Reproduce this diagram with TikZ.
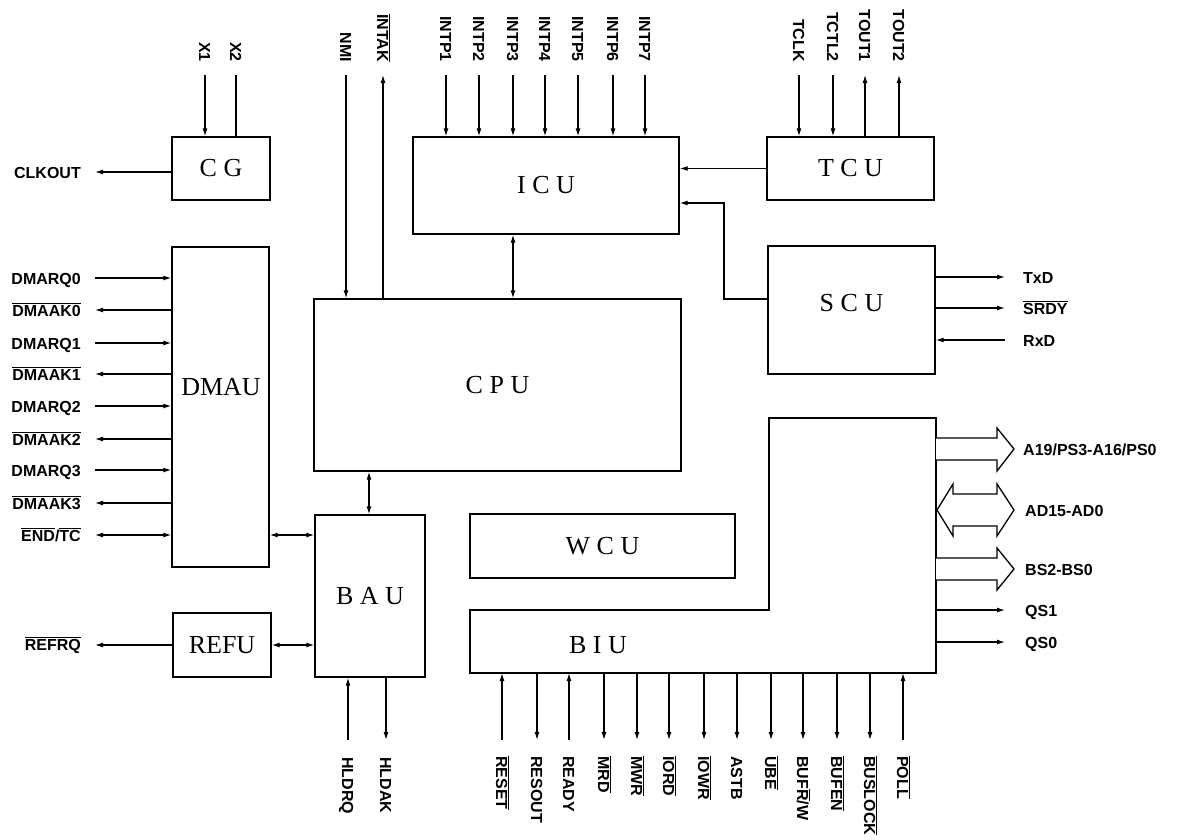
\documentclass[tikz,border=0pt]{standalone}
\usepackage{fontspec}
\newfontfamily\pinfont{Liberation Sans}
\newfontfamily\blkfont{Liberation Serif}
\usetikzlibrary{arrows.meta,calc}
\newcommand{\ovl}[1]{$\overline{\mbox{#1}}$}
\begin{document}
\begin{tikzpicture}[x=1pt,y=-1pt,
  bfont/.style={font=\blkfont\fontsize{26}{30}\selectfont},
  blk/.style={draw,line width=1.4pt,inner sep=0pt,bfont},
  wire/.style={line width=1.2pt},
  outp/.style={wire,-{Latex[length=8pt,width=5pt]}},
  inp/.style={wire,{Latex[length=8pt,width=5pt]}-},
  bidir/.style={wire,{Latex[length=8pt,width=5pt]}-{Latex[length=8pt,width=5pt]}},
  plain/.style={wire},
  pl/.style={font=\pinfont\bfseries\fontsize{16}{18}\selectfont,inner sep=0pt},
  tl/.style={pl,rotate=-90,anchor=base east},
  bl/.style={pl,rotate=-90,anchor=base west},
  ll/.style={pl,anchor=base east},
  rl/.style={pl,anchor=base west},
  bus/.style={line width=1.3pt,fill=white,line join=miter}
]
\useasboundingbox (0,0) rectangle (1186,839);
\fill[white] (0,0) rectangle (1186,839);

% blocks
\node[blk,minimum width=98pt,minimum height=63pt] (cg) at (221,168.5) {C G};
\node[blk,minimum width=266pt,minimum height=97pt] (icu) at (546,185.5) {I C U};
\node[blk,minimum width=167pt,minimum height=63pt] (tcu) at (850.5,168.5) {T C U};
\node[blk,minimum width=167pt,minimum height=128pt] (scu) at (851.5,310) {};
\node[bfont] (scul) at (851.5,303) {S C U};
\node[blk,minimum width=97pt,minimum height=320pt] (dmau) at (220.5,407) {};
\node[bfont] (dmaul) at (221,387) {DMAU};
\node[blk,minimum width=367pt,minimum height=172pt] (cpu) at (497.5,385) {C P U};
\node[blk,minimum width=110pt,minimum height=162pt] (bau) at (370,596) {B A U};
\node[blk,minimum width=98pt,minimum height=64pt] (refu) at (222,645) {REFU};
\node[blk,minimum width=265pt,minimum height=64pt] (wcu) at (602.5,546) {W C U};
\draw[line width=1.4pt] (470,610) -- (769,610) -- (769,418) -- (936,418) -- (936,673) -- (470,673) -- cycle;
\node[bfont] (biu) at (598,645) {B I U};
\coordinate (biubot) at (470,673);
\coordinate (biuright) at (936,418);

% CG pins
\coordinate (px1) at (205,75);
\coordinate (px2) at (236,75);
\draw[inp] (cg.north -| px1) -- (px1);
\draw[plain] (cg.north -| px2) -- (px2);
\node[tl] (lx1) at (199,62) {X1};
\node[tl] (lx2) at (230,62) {X2};
\coordinate (pclk) at (95,172);
\draw[outp] (cg.west |- pclk) -- (pclk);
\node[ll] (lclk) at (81,178) {CLKOUT};

% NMI / INTAK
\coordinate (pnmi) at (346,75);
\coordinate (pintak) at (383,75);
\draw[inp] (cpu.north -| pnmi) -- (pnmi);
\draw[outp] (cpu.north -| pintak) -- (pintak);
\node[tl] (lnmi) at (340,62) {NMI};
\node[tl] (lintak) at (377,62) {\ovl{INTAK}};

% INTP pins
\foreach \x/\t in {446/INTP1,479/INTP2,513/INTP3,545/INTP4,578/INTP5,613/INTP6,645/INTP7}{
  \coordinate (pi\x) at (\x,75);
  \draw[inp] (icu.north -| pi\x) -- (pi\x);
  \node[tl] (li\x) at (\x-6,62) {\t};
}

% TCU pins
\foreach \x/\t/\s in {799/TCLK/inp,833/TCTL2/inp,865/TOUT1/outp,899/TOUT2/outp}{
  \coordinate (pt\x) at (\x,75);
  \draw[\s] (tcu.north -| pt\x) -- (pt\x);
  \node[tl] (lt\x) at (\x-6,62) {\t};
}

% TCU -> ICU
\draw[outp] (tcu.west) -- (tcu.west -| icu.east);
% SCU -> ICU
\coordinate (scuj) at (768,299);
\coordinate (scuk) at (724,299);
\coordinate (scum) at (724,203);
\draw[wire,-{Latex[length=8pt,width=5pt]}] (scuj) -- (scuk) -- (scum) -- (icu.east |- scum);
% ICU <-> CPU
\coordinate (ic) at (513,0);
\draw[bidir] (icu.south -| ic) -- (cpu.north -| ic);
% CPU <-> BAU
\coordinate (cb) at (369,0);
\draw[bidir] (cpu.south -| cb) -- (bau.north -| cb);

% SCU pins
\foreach \y/\t/\s in {277/TxD/outp,308/\ovl{SRDY}/outp,340/RxD/inp}{
  \coordinate (ps\y) at (1005,\y);
  \draw[\s] (scu.east |- ps\y) -- (ps\y);
  \node[rl] (ls\y) at (1023,\y+6) {\t};
}

% DMAU pins
\foreach \y/\t/\s in {278/DMARQ0/inp,310/\ovl{DMAAK0}/outp,343/DMARQ1/inp,374/\ovl{DMAAK1}/outp,406/DMARQ2/inp,439/\ovl{DMAAK2}/outp,470/DMARQ3/inp,503/\ovl{DMAAK3}/outp}{
  \coordinate (pd\y) at (95,\y);
  \draw[\s] (dmau.west |- pd\y) -- (pd\y);
  \node[ll] (ld\y) at (81,\y+6) {\t};
}
\coordinate (pend) at (95,535);
\draw[bidir] (dmau.west |- pend) -- (pend);
\node[ll] (lend) at (81,541) {\ovl{END}/\ovl{TC}};
\coordinate (db) at (0,535);
\draw[bidir] (dmau.east |- db) -- (bau.west |- db);

% REFU
\coordinate (pref) at (95,645);
\draw[outp] (refu.west) -- (pref);
\node[ll] (lref) at (81,650) {\ovl{REFRQ}};
\draw[bidir] (refu.east) -- (refu.east -| bau.west);

% BAU pins
\coordinate (phrq) at (348,740);
\coordinate (phak) at (386,740);
\draw[inp] (bau.south -| phrq) -- (phrq);
\draw[outp] (bau.south -| phak) -- (phak);
\node[bl] (lhrq) at (342,757) {HLDRQ};
\node[bl] (lhak) at (380,757) {HLDAK};

% BIU buses
\draw[bus] (936,438) -- (997,438) -- (997,428) -- (1014,449) -- (997,471) -- (997,460) -- (936,460);
\draw[bus] (953,494) -- (997,494) -- (997,484) -- (1014,510) -- (997,536) -- (997,526) -- (953,526) -- (953,536) -- (937,510) -- (953,484) -- cycle;
\draw[bus] (936,558) -- (997,558) -- (997,548) -- (1014,569) -- (997,590) -- (997,580) -- (936,580);
\node[rl] (la19) at (1023,455) {A19/PS3-A16/PS0};
\node[rl] (lad) at (1025,516) {AD15-AD0};
\node[rl] (lbs) at (1025,575) {BS2-BS0};
\foreach \y/\t in {610/QS1,642/QS0}{
  \coordinate (pq\y) at (1005,\y);
  \draw[outp] (biuright |- pq\y) -- (pq\y);
  \node[rl] (lq\y) at (1025,\y+6) {\t};
}

% BIU bottom pins
\foreach \x/\t/\s in {502/\ovl{RESET}/inp,537/RESOUT/outp,569/READY/inp,604/\ovl{MRD}/outp,637/\ovl{MWR}/outp,669/\ovl{IORD}/outp,704/\ovl{IOWR}/outp,737/ASTB/outp,771/\ovl{UBE}/outp,837/\ovl{BUFEN}/outp,870/\ovl{BUSLOCK}/outp,903/\ovl{POLL}/inp}{
  \coordinate (pb\x) at (\x,740);
  \draw[\s] (biubot -| pb\x) -- (pb\x);
  \node[bl] (lb\x) at (\x-6,756) {\t};
}
\coordinate (pbuf) at (803,740);
\draw[outp] (biubot -| pbuf) -- (pbuf);
\node[bl] (lbuf) at (797,756) {BUF\ovl{R}/W};
\end{tikzpicture}
\end{document}
